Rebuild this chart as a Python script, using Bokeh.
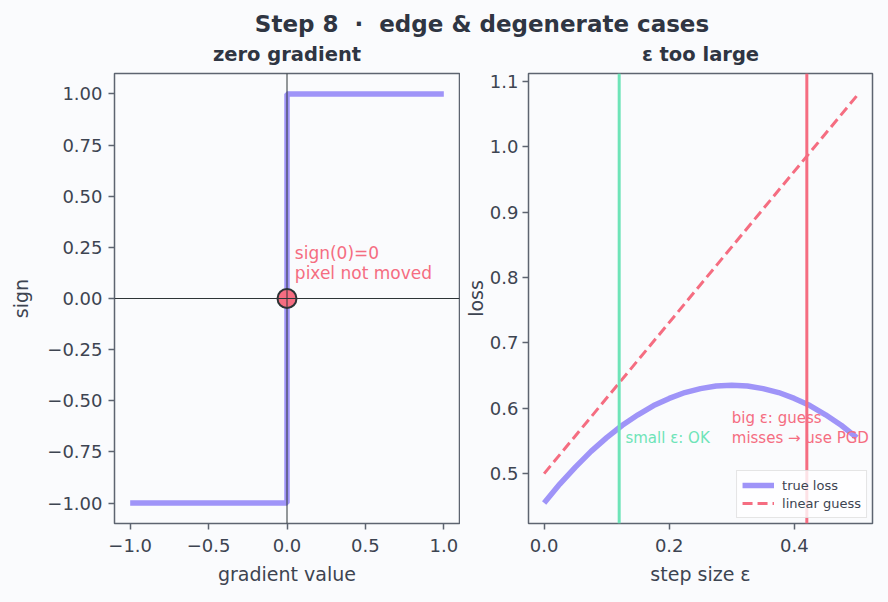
from bokeh.plotting import figure
from bokeh.models import FixedTicker, Div, Legend, LegendItem, Span, Range1d
from bokeh.layouts import column, row
from bokeh.embed import file_html
from bokeh.resources import INLINE
from bokeh.core.properties import value

# ---------------- data ----------------
grad_x = [-1.0, 0.0, 0.0, 1.0]
grad_sign = [-1.0, -1.0, 1.0, 1.0]
zero_x = [0.0]
zero_y = [0.0]
left_xticks = [-1.0, -0.5, 0.0, 0.5, 1.0]
left_xtick_labels = ["−1.0", "−0.5", "0.0", "0.5", "1.0"]
left_yticks = [-1.0, -0.75, -0.5, -0.25, 0.0, 0.25, 0.5, 0.75, 1.0]
left_ytick_labels = ["−1.00", "−0.75", "−0.50", "−0.25", "0.00", "0.25", "0.50", "0.75", "1.00"]

eps = [0.0, 0.025, 0.05, 0.075, 0.1, 0.125, 0.15, 0.175, 0.2, 0.225, 0.25,
       0.275, 0.3, 0.325, 0.35, 0.375, 0.4, 0.425, 0.45, 0.475, 0.5]
true_loss = [0.455, 0.484, 0.510, 0.534, 0.555, 0.574, 0.590, 0.604, 0.615, 0.624, 0.630,
             0.634, 0.635, 0.634, 0.630, 0.624, 0.615, 0.604, 0.590, 0.574, 0.555]
lin_eps = [0.0, 0.5]
lin_guess = [0.5, 1.078]
small_eps = 0.12
big_eps = 0.42
right_xticks = [0.0, 0.2, 0.4]
right_xtick_labels = ["0.0", "0.2", "0.4"]
right_yticks = [0.5, 0.6, 0.7, 0.8, 0.9, 1.0, 1.1]
right_ytick_labels = ["0.5", "0.6", "0.7", "0.8", "0.9", "1.0", "1.1"]

# ---------------- styles ----------------
BG = "#fafbfd"
SPINE = "#5d6470"
TICK = "#3d4451"
TITLE = "#2f3542"
DARK = "#2d3436"
PURPLE = "#9f94f8"
RED = "#f56d81"
GREEN = "#6ee4b8"
FONT = "DejaVu Sans"


def style(p, xticks, xlabels, yticks, ylabels, xlab, ylab):
    p.background_fill_color = BG
    p.border_fill_color = BG
    p.border_fill_alpha = 0
    p.outline_line_color = SPINE
    p.outline_line_width = 1.5
    p.xgrid.visible = False
    p.ygrid.visible = False
    p.title.text_font = FONT
    p.title.text_font_size = "19.5px"
    p.title.text_font_style = "bold"
    p.title.text_color = TITLE
    p.title.align = "center"
    p.title.standoff = 15
    for ax, ticks, labels, lab in ((p.xaxis[0], xticks, xlabels, xlab), (p.yaxis[0], yticks, ylabels, ylab)):
        ax.ticker = FixedTicker(ticks=ticks)
        ax.major_label_overrides = {t: l for t, l in zip(ticks, labels)}
        ax.minor_tick_line_color = None
        ax.axis_line_color = None
        ax.major_tick_line_color = SPINE
        ax.major_tick_line_width = 1.5
        ax.major_tick_out = 6
        ax.major_tick_in = 0
        ax.major_label_standoff = 6
        ax.major_label_text_font = FONT
        ax.major_label_text_font_size = "18px"
        ax.major_label_text_color = TICK
        ax.axis_label = lab
        ax.axis_label_text_font = FONT
        ax.axis_label_text_font_size = "19px"
        ax.axis_label_text_font_style = "normal"
        ax.axis_label_text_color = TICK
    p.xaxis[0].major_label_standoff = 9
    p.xaxis[0].axis_label_standoff = 8
    p.yaxis[0].axis_label_standoff = 12


# ---------------- left: zero gradient ----------------
p1 = figure(width=460, height=569, output_backend="svg", toolbar_location=None,
            x_range=Range1d(-1.1, 1.1), y_range=Range1d(-1.1, 1.1),
            title="zero gradient",
            min_border_left=114, min_border_right=1, min_border_top=39, min_border_bottom=79)
style(p1, left_xticks, left_xtick_labels, left_yticks, left_ytick_labels, "gradient value", "sign")

p1.line(grad_x, grad_sign, line_color=PURPLE, line_width=5.5)
p1.scatter(zero_x, zero_y, size=19, fill_color=RED, line_color=DARK, line_width=2)
p1.add_layout(Span(location=0, dimension="width", line_color=DARK, line_width=1))
p1.add_layout(Span(location=0, dimension="height", line_color=DARK, line_width=1))
p1.text(x=[0.05, 0.05], y=[0.222, 0.124], text=["sign(0)=0", "pixel not moved"],
        text_font=value(FONT), text_font_size="17px", text_color=RED,
        text_align="left", text_baseline="middle")

# ---------------- right: eps too large ----------------
p2 = figure(width=428, height=569, output_backend="svg", toolbar_location=None,
            x_range=Range1d(-0.025, 0.525), y_range=Range1d(0.4237, 1.112),
            title="ε too large",
            min_border_left=68, min_border_right=16, min_border_top=39, min_border_bottom=79)
style(p2, right_xticks, right_xtick_labels, right_yticks, right_ytick_labels, "step size ε", "loss")
p2.yaxis[0].major_label_standoff = 4
p2.yaxis[0].axis_label_standoff = 0

r_true = p2.line(eps, true_loss, line_color=PURPLE, line_width=5.5)
r_lin = p2.line(lin_eps, lin_guess, line_color=RED, line_width=3, line_dash="10 5")
p2.add_layout(Span(location=small_eps, dimension="height", line_color=GREEN, line_width=3))
p2.add_layout(Span(location=big_eps, dimension="height", line_color=RED, line_width=3))
p2.text(x=[0.13], y=[0.555], text=["small ε: OK"], text_font=value(FONT), text_font_size="15px",
        text_color=GREEN, text_align="left", text_baseline="middle")
p2.text(x=[0.30, 0.30], y=[0.5855, 0.555], text=["big ε: guess", "misses → use PGD"],
        text_font=value(FONT), text_font_size="15px",
        text_color=RED, text_align="left", text_baseline="middle")

legend = Legend(items=[LegendItem(label="true loss", renderers=[r_true]),
                       LegendItem(label="linear guess", renderers=[r_lin])],
                location="bottom_right")
legend.margin = 5
legend.padding = 5
legend.spacing = 0
legend.glyph_width = 32
legend.glyph_height = 18
legend.label_height = 18
legend.label_standoff = 8
legend.label_text_font = FONT
legend.label_text_font_size = "13px"
legend.label_text_color = TICK
legend.background_fill_color = "white"
legend.background_fill_alpha = 0.8
legend.border_line_color = "#cccccc"
legend.border_line_width = 1
p2.add_layout(legend)

title_div = Div(
    text='<div style="width:888px;height:40px;box-sizing:border-box;padding-left:76px;'
         'padding-top:11px;text-align:center;white-space:pre;font-family:\'DejaVu Sans\';'
         'font-weight:bold;font-size:23px;line-height:27px;color:#2f3542;">Step 8  ·  edge &amp; degenerate cases</div>',
    width=888, height=33, margin=(0, 0, 0, 0), styles={"overflow": "visible", "z-index": "10"})

layout = column(title_div, row(p1, p2, spacing=0), spacing=0)
layout.styles = {"background-color": BG}

with open("out.html", "w") as f:
    f.write(file_html(layout, INLINE))
